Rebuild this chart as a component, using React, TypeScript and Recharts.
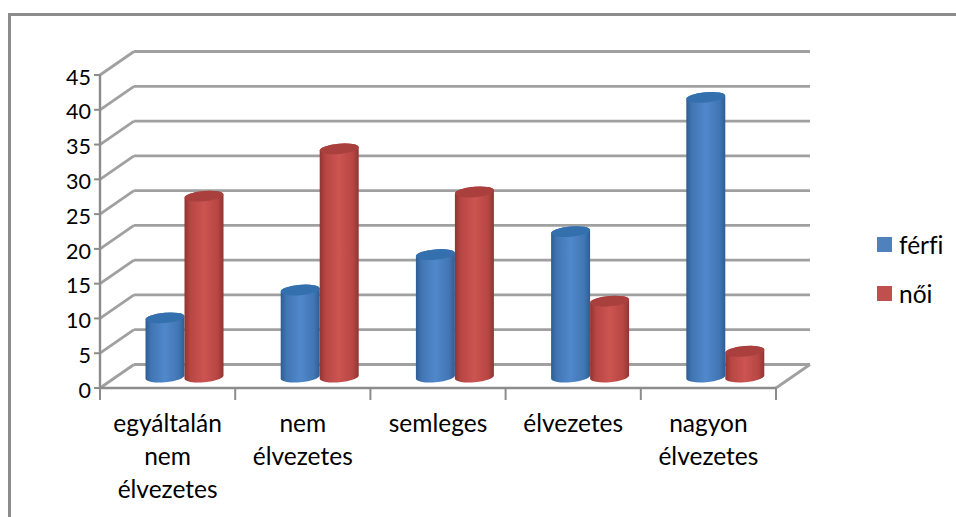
import React from "react";
import { BarChart, Bar, XAxis, YAxis, CartesianGrid, Legend } from "recharts";

const categories = ["egyáltalán nem élvezetes", "nem élvezetes", "semleges", "élvezetes", "nagyon élvezetes"];
const ferfi = [8.5, 12.5, 17.6, 20.9, 40.2];
const noi = [26, 32.8, 26.6, 10.9, 3.7];
const yTicks = [0, 5, 10, 15, 20, 25, 30, 35, 40, 45];
const rows = categories.map((name, i) => ({ name, ferfi: ferfi[i], noi: noi[i] }));

const FONT = "Lato, 'Open Sans', sans-serif";
const GREY = "#a0a0a0";
const AXIS = "#8c8c8c";
const DX = 34;
const DY = -23.5;
const BAND = 135.2;

function Cylinder(props: any) {
  const { x, y, width, height, grad, cap } = props;
  const ox = 16.5;
  const oy = -11;
  const cx = x + width / 2 + ox;
  const rx = width / 2;
  const ry = 5.2;
  const tilt = 1.7;
  const top = y + oy;
  const base = y + height + oy;
  const L = x + ox;
  const R = x + width + ox;
  const d = `M${L},${top + tilt} L${L},${base + tilt} A${rx},${ry} -5 0 0 ${R},${base - tilt} L${R},${top - tilt} A${rx},${ry} -5 0 0 ${L},${top + tilt} Z`;
  return (
    <g>
      <path d={d} fill={`url(#${grad})`} />
      <ellipse cx={cx} cy={top} rx={rx} ry={ry} fill={cap} transform={`rotate(-5 ${cx} ${top})`} />
    </g>
  );
}

function GridLine(props: any) {
  const { x1, x2, y1, y2 } = props;
  const isFloor = y1 > 380;
  return (
    <g stroke={GREY} strokeWidth={2.8} fill="none">
      <line x1={x1} y1={y1} x2={x1 + DX} y2={y1 + DY} />
      <line x1={x1 + DX} y1={y2 + DY} x2={x2 + DX} y2={y2 + DY} />
      {isFloor ? <line x1={x2} y1={y2} x2={x2 + DX} y2={y2 + DY} /> : null}
    </g>
  );
}

function CategoryTick(props: any) {
  const { x, payload, index } = props;
  const words = String(payload.value).split(" ");
  return (
    <g>
      <line x1={x - BAND / 2} y1={388} x2={x - BAND / 2} y2={400} stroke={AXIS} strokeWidth={2} />
      {index === categories.length - 1 ? (
        <line x1={x + BAND / 2} y1={388} x2={x + BAND / 2} y2={400} stroke={AXIS} strokeWidth={2} />
      ) : null}
      <text x={x} textAnchor="middle" fontFamily={FONT} fontSize={24.5} fill="#000">
        {words.map((w: string, i: number) => (
          <tspan key={i} x={x} y={432 + i * 33}>{w}</tspan>
        ))}
      </text>
    </g>
  );
}

function LegendBox(props: any) {
  const { payload } = props;
  return (
    <div style={{ fontFamily: FONT, fontSize: 24.5, color: "#000", fontVariantLigatures: "none" }}>
      {(payload || []).map((p: any) => (
        <div key={p.value} style={{ display: "flex", alignItems: "center", height: 49 }}>
          <span style={{ width: 15, height: 15, background: p.color, display: "inline-block", marginRight: 7 }} />
          <span>{p.value}</span>
        </div>
      ))}
    </div>
  );
}

export default function App() {
  return (
    <div style={{ position: "absolute", left: 0, top: 0, width: 956, height: 517, background: "#fff", overflow: "hidden" }}>
      <div style={{ position: "absolute", left: 8, top: 13, width: 960, height: 520, borderLeft: "3px solid #8c8c8c", borderTop: "3px solid #8c8c8c" }} />
      <BarChart
        width={956}
        height={517}
        data={rows}
        margin={{ top: 75, right: 101, bottom: 0, left: 60 }}
        barSize={39}
        barGap={0}
        style={{ position: "absolute", left: 0, top: 0 }}
      >
        <defs>
          <linearGradient id="gBlue" x1="0" y1="0" x2="1" y2="0">
            <stop offset="0" stopColor="#2f5d94" />
            <stop offset="0.15" stopColor="#4176b4" />
            <stop offset="0.5" stopColor="#5088cb" />
            <stop offset="0.85" stopColor="#4176b4" />
            <stop offset="1" stopColor="#2f5d94" />
          </linearGradient>
          <linearGradient id="gRed" x1="0" y1="0" x2="1" y2="0">
            <stop offset="0" stopColor="#8f3533" />
            <stop offset="0.15" stopColor="#b74643" />
            <stop offset="0.5" stopColor="#cc5451" />
            <stop offset="0.85" stopColor="#b74643" />
            <stop offset="1" stopColor="#8f3533" />
          </linearGradient>
        </defs>
        <CartesianGrid horizontal={(p: any) => <GridLine {...p} key={p.key ?? p.index} />} vertical={false} />
        <XAxis
          dataKey="name"
          axisLine={{ stroke: AXIS, strokeWidth: 2.4 }}
          tickLine={false}
          interval={0}
          tick={<CategoryTick />}
          height={129}
        />
        <YAxis
          domain={[0, 45]}
          ticks={yTicks}
          interval={0}
          width={40}
          axisLine={{ stroke: AXIS, strokeWidth: 2.4 }}
          tickLine={{ stroke: AXIS, strokeWidth: 2 }}
          tickSize={6}
          tickMargin={3}
          tick={{ fontFamily: FONT, fontSize: 21.5, fill: "#000", dy: 2 }}
        />
        <Legend
          layout="vertical"
          align="right"
          verticalAlign="top"
          content={<LegendBox />}
          wrapperStyle={{ position: "absolute", left: 877, top: 220, width: 79, right: "auto", bottom: "auto" }}
        />
        <Bar dataKey="ferfi" name="férfi" fill="#4f81bd" isAnimationActive={false}
          shape={(p: any) => <Cylinder {...p} grad="gBlue" cap="#3570ae" />} />
        <Bar dataKey="noi" name="női" fill="#c0504d" isAnimationActive={false}
          shape={(p: any) => <Cylinder {...p} grad="gRed" cap="#a9403d" />} />
      </BarChart>
    </div>
  );
}
